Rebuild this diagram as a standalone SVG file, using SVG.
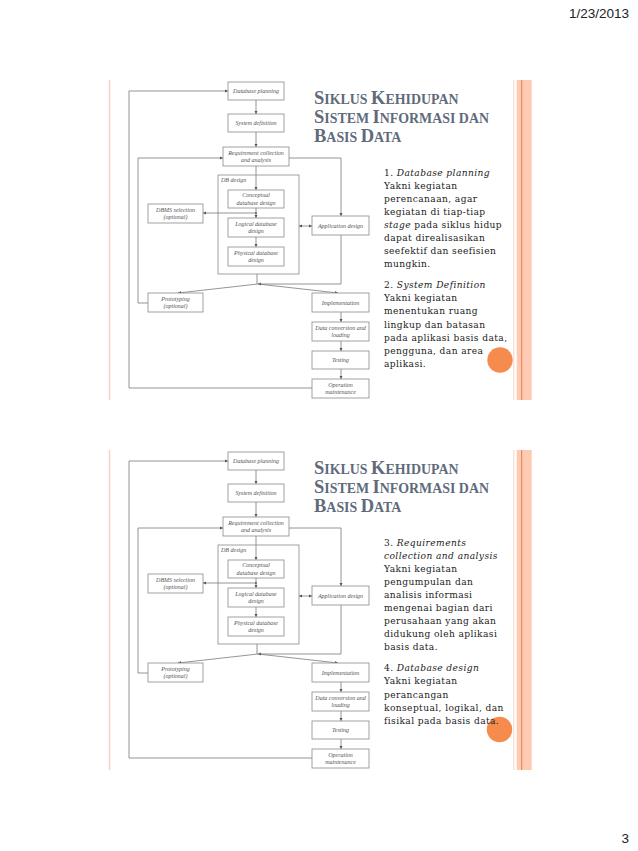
<svg xmlns="http://www.w3.org/2000/svg" width="638" height="851" viewBox="0 0 638 851">
<defs>
<style>
.box{fill:#fff;stroke:#8a8a8a;stroke-width:0.8}
.cont{fill:none;stroke:#8a8a8a;stroke-width:0.8}
.lbl{font-family:"Liberation Serif",serif;font-style:italic;font-size:6px;fill:#555;text-anchor:middle}
.lbls{font-family:"Liberation Serif",serif;font-style:italic;font-size:6px;fill:#555}
.edge{fill:none;stroke:#7a7a7a;stroke-width:0.8}
.arr{marker-end:url(#ah)}
.title{font-family:"Liberation Serif",serif;font-weight:bold;fill:#5f6b7b}
.big{font-size:18.5px}
.sm{font-size:13.9px}
.body{font-family:"DejaVu Serif",serif;font-size:9.1px;letter-spacing:0.4px;fill:#222}
.it{font-style:italic}
.hdr{font-family:"Liberation Sans",sans-serif;font-size:13.5px;fill:#222;text-anchor:end}
</style>
<marker id="ah" viewBox="0 0 6 6" refX="6" refY="3" markerWidth="4" markerHeight="4" orient="auto-start-reverse"><path d="M0,0 L6,3 L0,6 z" fill="#555"/></marker>
</defs>
<rect width="638" height="851" fill="#fff"/>
<text class="hdr" x="629" y="18">1/23/2013</text>
<text class="hdr" x="629" y="843">3</text>

<g id="slide1">
<g id="s1-deco">
<line x1="109.5" y1="80" x2="109.5" y2="400" stroke="#f8d3c4" stroke-width="1.5"/>
<line x1="513.7" y1="80" x2="513.7" y2="400" stroke="#fbe1d5" stroke-width="1.4"/>
<rect x="516.7" y="80" width="15" height="320" fill="#fdcab4"/>
<line x1="521.6" y1="80" x2="521.6" y2="400" stroke="#ec8c5c" stroke-width="1.2"/>
</g>
<g id="s1-connectors">
<path class="edge arr" d="M312,388 H129 V91 H228"/>
<path class="edge arr" d="M256,100 V114"/>
<path class="edge arr" d="M256,132 V147"/>
<path class="edge arr" d="M148,303 H138 V158 H223"/>
<path class="edge arr" d="M289,158 H341 V216"/>
<path class="edge arr" d="M256,166 V190"/>
<path class="edge arr" d="M256,208 V218"/>
<path class="edge arr" d="M256,213 H203"/>
<circle cx="256" cy="213" r="0.9" fill="#555"/>
<path class="edge arr" d="M299,226 H312" marker-start="url(#ah)"/>
<path class="edge arr" d="M256,237 V247"/>
<path class="edge" d="M257,274 V284"/>
<path class="edge arr" d="M341,235 V284 H258"/>
<path class="edge arr" d="M258,284 L178,293"/>
<path class="edge arr" d="M258,284 L338,293"/>
<path class="edge arr" d="M341,312 V322"/>
<path class="edge arr" d="M341,341 V351"/>
<path class="edge arr" d="M341,369 V379"/>
</g>
<g id="s1-dbplan"><rect class="box" x="228" y="82" width="56" height="18"/><text class="lbl" x="256" y="93">Database planning</text></g>
<g id="s1-sysdef"><rect class="box" x="228" y="114" width="56" height="18"/><text class="lbl" x="256" y="125">System definition</text></g>
<g id="s1-req"><rect class="box" x="223" y="147" width="66" height="19"/><text class="lbl" x="256" y="154.5">Requirement collection</text><text class="lbl" x="256" y="162">and analysis</text></g>
<g id="s1-dbdesign"><rect class="cont" x="218" y="175" width="81" height="99"/><text class="lbls" x="221" y="182">DB design</text></g>
<g id="s1-concept"><rect class="box" x="228" y="190" width="56" height="18"/><text class="lbl" x="256" y="197">Conceptual</text><text class="lbl" x="256" y="204.5">database design</text></g>
<g id="s1-logical"><rect class="box" x="228" y="218" width="56" height="19"/><text class="lbl" x="256" y="225.5">Logical database</text><text class="lbl" x="256" y="233">design</text></g>
<g id="s1-physical"><rect class="box" x="228" y="247" width="56" height="19"/><text class="lbl" x="256" y="254.5">Physical database</text><text class="lbl" x="256" y="262">design</text></g>
<g id="s1-dbms"><rect class="box" x="148" y="204" width="55" height="19"/><text class="lbl" x="175.5" y="211.5">DBMS selection</text><text class="lbl" x="175.5" y="219">(optional)</text></g>
<g id="s1-appdesign"><rect class="box" x="312" y="216" width="57" height="19"/><text class="lbl" x="340.5" y="227.5">Application design</text></g>
<g id="s1-proto"><rect class="box" x="148" y="293" width="55" height="19"/><text class="lbl" x="175.5" y="300.5">Prototyping</text><text class="lbl" x="175.5" y="308">(optional)</text></g>
<g id="s1-impl"><rect class="box" x="312" y="293" width="57" height="19"/><text class="lbl" x="340.5" y="304.5">Implementation</text></g>
<g id="s1-dataconv"><rect class="box" x="312" y="322" width="57" height="19"/><text class="lbl" x="340.5" y="329.5">Data conversion and</text><text class="lbl" x="340.5" y="337">loading</text></g>
<g id="s1-testing"><rect class="box" x="312" y="351" width="57" height="18"/><text class="lbl" x="340.5" y="362">Testing</text></g>
<g id="s1-opmaint"><rect class="box" x="312" y="379" width="57" height="19"/><text class="lbl" x="340.5" y="386.5">Operation</text><text class="lbl" x="340.5" y="394">maintenance</text></g>
<g id="s1-title">
<text class="title" x="314" y="104"><tspan class="big">S</tspan><tspan class="sm">IKLUS </tspan><tspan class="big">K</tspan><tspan class="sm">EHIDUPAN</tspan></text>
<text class="title" x="314" y="123"><tspan class="big">S</tspan><tspan class="sm">ISTEM </tspan><tspan class="big">I</tspan><tspan class="sm">NFORMASI DAN</tspan></text>
<text class="title" x="314" y="142"><tspan class="big">B</tspan><tspan class="sm">ASIS </tspan><tspan class="big">D</tspan><tspan class="sm">ATA</tspan></text>
</g>
<circle cx="500" cy="360" r="12.7" fill="#f58b4c"/>
<g id="s1-body">
<text class="body" x="384" y="175.5">1. <tspan class="it">Database planning</tspan></text>
<text class="body" x="384" y="188.6">Yakni kegiatan</text>
<text class="body" x="384" y="201.7">perencanaan, agar</text>
<text class="body" x="384" y="214.8">kegiatan di tiap-tiap</text>
<text class="body" x="384" y="227.9"><tspan class="it">stage</tspan> pada siklus hidup</text>
<text class="body" x="384" y="241">dapat direalisasikan</text>
<text class="body" x="384" y="254.1">seefektif dan seefisien</text>
<text class="body" x="384" y="267.2">mungkin.</text>
<text class="body" x="384" y="288.2">2. <tspan class="it">System Definition</tspan></text>
<text class="body" x="384" y="301.3">Yakni kegiatan</text>
<text class="body" x="384" y="314.4">menentukan ruang</text>
<text class="body" x="384" y="327.5">lingkup dan batasan</text>
<text class="body" x="384" y="340.6">pada aplikasi basis data,</text>
<text class="body" x="384" y="353.7">pengguna, dan area</text>
<text class="body" x="384" y="366.8">aplikasi.</text>
</g>
</g>

<g id="slide2" transform="translate(0,370)">
<g id="s2-deco">
<line x1="109.5" y1="80" x2="109.5" y2="400" stroke="#f8d3c4" stroke-width="1.5"/>
<line x1="513.7" y1="80" x2="513.7" y2="400" stroke="#fbe1d5" stroke-width="1.4"/>
<rect x="516.7" y="80" width="15" height="320" fill="#fdcab4"/>
<line x1="521.6" y1="80" x2="521.6" y2="400" stroke="#ec8c5c" stroke-width="1.2"/>
</g>
<g id="s2-connectors">
<path class="edge arr" d="M312,388 H129 V91 H228"/>
<path class="edge arr" d="M256,100 V114"/>
<path class="edge arr" d="M256,132 V147"/>
<path class="edge arr" d="M148,303 H138 V158 H223"/>
<path class="edge arr" d="M289,158 H341 V216"/>
<path class="edge arr" d="M256,166 V190"/>
<path class="edge arr" d="M256,208 V218"/>
<path class="edge arr" d="M256,213 H203"/>
<circle cx="256" cy="213" r="0.9" fill="#555"/>
<path class="edge arr" d="M299,226 H312" marker-start="url(#ah)"/>
<path class="edge arr" d="M256,237 V247"/>
<path class="edge" d="M257,274 V284"/>
<path class="edge arr" d="M341,235 V284 H258"/>
<path class="edge arr" d="M258,284 L178,293"/>
<path class="edge arr" d="M258,284 L338,293"/>
<path class="edge arr" d="M341,312 V322"/>
<path class="edge arr" d="M341,341 V351"/>
<path class="edge arr" d="M341,369 V379"/>
</g>
<g id="s2-dbplan"><rect class="box" x="228" y="82" width="56" height="18"/><text class="lbl" x="256" y="93">Database planning</text></g>
<g id="s2-sysdef"><rect class="box" x="228" y="114" width="56" height="18"/><text class="lbl" x="256" y="125">System definition</text></g>
<g id="s2-req"><rect class="box" x="223" y="147" width="66" height="19"/><text class="lbl" x="256" y="154.5">Requirement collection</text><text class="lbl" x="256" y="162">and analysis</text></g>
<g id="s2-dbdesign"><rect class="cont" x="218" y="175" width="81" height="99"/><text class="lbls" x="221" y="182">DB design</text></g>
<g id="s2-concept"><rect class="box" x="228" y="190" width="56" height="18"/><text class="lbl" x="256" y="197">Conceptual</text><text class="lbl" x="256" y="204.5">database design</text></g>
<g id="s2-logical"><rect class="box" x="228" y="218" width="56" height="19"/><text class="lbl" x="256" y="225.5">Logical database</text><text class="lbl" x="256" y="233">design</text></g>
<g id="s2-physical"><rect class="box" x="228" y="247" width="56" height="19"/><text class="lbl" x="256" y="254.5">Physical database</text><text class="lbl" x="256" y="262">design</text></g>
<g id="s2-dbms"><rect class="box" x="148" y="204" width="55" height="19"/><text class="lbl" x="175.5" y="211.5">DBMS selection</text><text class="lbl" x="175.5" y="219">(optional)</text></g>
<g id="s2-appdesign"><rect class="box" x="312" y="216" width="57" height="19"/><text class="lbl" x="340.5" y="227.5">Application design</text></g>
<g id="s2-proto"><rect class="box" x="148" y="293" width="55" height="19"/><text class="lbl" x="175.5" y="300.5">Prototyping</text><text class="lbl" x="175.5" y="308">(optional)</text></g>
<g id="s2-impl"><rect class="box" x="312" y="293" width="57" height="19"/><text class="lbl" x="340.5" y="304.5">Implementation</text></g>
<g id="s2-dataconv"><rect class="box" x="312" y="322" width="57" height="19"/><text class="lbl" x="340.5" y="329.5">Data conversion and</text><text class="lbl" x="340.5" y="337">loading</text></g>
<g id="s2-testing"><rect class="box" x="312" y="351" width="57" height="18"/><text class="lbl" x="340.5" y="362">Testing</text></g>
<g id="s2-opmaint"><rect class="box" x="312" y="379" width="57" height="19"/><text class="lbl" x="340.5" y="386.5">Operation</text><text class="lbl" x="340.5" y="394">maintenance</text></g>
<g id="s2-title">
<text class="title" x="314" y="104"><tspan class="big">S</tspan><tspan class="sm">IKLUS </tspan><tspan class="big">K</tspan><tspan class="sm">EHIDUPAN</tspan></text>
<text class="title" x="314" y="123"><tspan class="big">S</tspan><tspan class="sm">ISTEM </tspan><tspan class="big">I</tspan><tspan class="sm">NFORMASI DAN</tspan></text>
<text class="title" x="314" y="142"><tspan class="big">B</tspan><tspan class="sm">ASIS </tspan><tspan class="big">D</tspan><tspan class="sm">ATA</tspan></text>
</g>
<circle cx="499.5" cy="359.5" r="12.7" fill="#f58b4c"/>
<g id="s2-body">
<text class="body" x="384" y="175.5">3. <tspan class="it">Requirements</tspan></text>
<text class="body it" x="384" y="188.6">collection and analysis</text>
<text class="body" x="384" y="201.7">Yakni kegiatan</text>
<text class="body" x="384" y="214.8">pengumpulan dan</text>
<text class="body" x="384" y="227.9">analisis informasi</text>
<text class="body" x="384" y="241">mengenai bagian dari</text>
<text class="body" x="384" y="254.1">perusahaan yang akan</text>
<text class="body" x="384" y="267.2">didukung oleh aplikasi</text>
<text class="body" x="384" y="280.3">basis data.</text>
<text class="body" x="384" y="301.3">4. <tspan class="it">Database design</tspan></text>
<text class="body" x="384" y="314.4">Yakni kegiatan</text>
<text class="body" x="384" y="327.5">perancangan</text>
<text class="body" x="384" y="340.6">konseptual, logikal, dan</text>
<text class="body" x="384" y="353.7">fisikal pada basis data.</text>
</g>
</g>
</svg>
